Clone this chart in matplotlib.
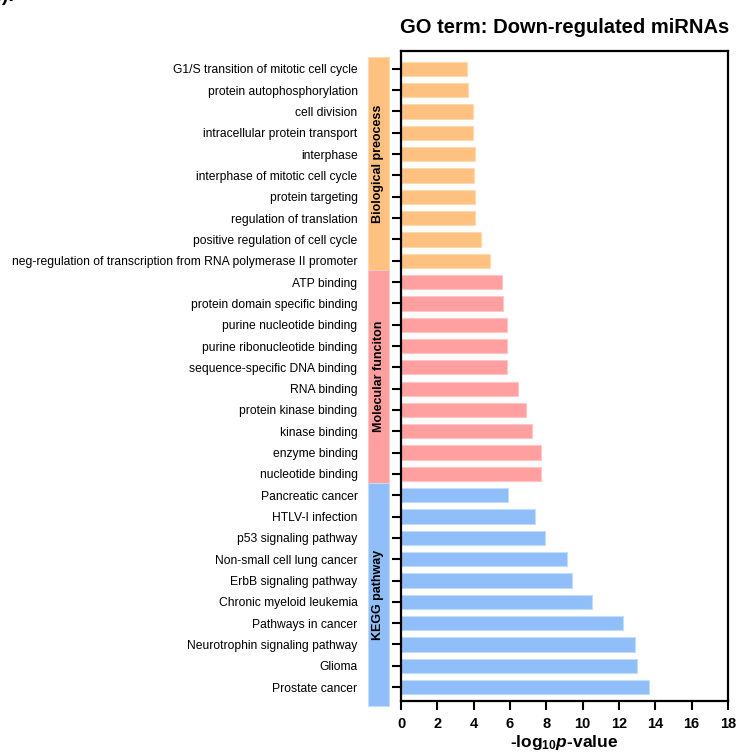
import matplotlib
matplotlib.use("Agg")
import matplotlib.pyplot as plt
import matplotlib.transforms as mtransforms
from matplotlib.patches import Rectangle

plt.rcParams['font.family'] = ['Liberation Sans', 'DejaVu Sans']
plt.rcParams['mathtext.fontset'] = 'custom'
plt.rcParams['mathtext.rm'] = 'Liberation Sans:bold'
plt.rcParams['mathtext.it'] = 'Liberation Sans:bold:italic'
plt.rcParams['mathtext.bf'] = 'Liberation Sans:bold'

bp_terms = ["G1/S transition of mitotic cell cycle", "protein autophosphorylation",
            "cell division", "intracellular protein transport", "interphase",
            "interphase of mitotic cell cycle", "protein targeting",
            "regulation of translation", "positive regulation of cell cycle",
            "neg-regulation of transcription from RNA polymerase II promoter"]
bp_values = [3.65, 3.69, 3.94, 3.94, 4.07, 4.0, 4.07, 4.07, 4.38, 4.88]

mf_terms = ["ATP binding", "protein domain specific binding", "purine nucleotide binding",
            "purine ribonucleotide binding", "sequence-specific DNA binding", "RNA binding",
            "protein kinase binding", "kinase binding", "enzyme binding", "nucleotide binding"]
mf_values = [5.58, 5.64, 5.82, 5.83, 5.83, 6.42, 6.9, 7.19, 7.69, 7.69]

kegg_terms = ["Pancreatic cancer", "HTLV-I infection", "p53 signaling pathway",
              "Non-small cell lung cancer", "ErbB signaling pathway",
              "Chronic myeloid leukemia", "Pathways in cancer",
              "Neurotrophin signaling pathway", "Glioma", "Prostate cancer"]
kegg_values = [5.91, 7.36, 7.92, 9.14, 9.41, 10.5, 12.23, 12.86, 12.99, 13.65]

groups = ["Biological preocess", "Molecular funciton", "KEGG pathway"]
group_colors = ["#FEC17F", "#FF9F9F", "#8FBEF8"]
group_edges = ["#FFD9B0", "#FFC6C6", "#C2DCFC"]

x_ticks = list(range(0, 19, 2))

W, H = 738, 756
fig = plt.figure(figsize=(W / 100, H / 100), dpi=100)
ax = fig.add_axes([401 / W, 1 - 701 / H, (728 - 401) / W, (701 - 50.7) / H])

all_terms = []
all_vals = []
all_cols = []
all_edges = []
spans = []
start = 0
for terms, vals, c, e in zip([bp_terms, mf_terms, kegg_terms],
                             [bp_values, mf_values, kegg_values],
                             group_colors, group_edges):
    all_terms += terms
    all_vals += vals
    all_cols += [c] * len(terms)
    all_edges += [e] * len(terms)
    spans.append((start, start + len(terms)))
    start += len(terms)

ypos = list(range(len(all_terms)))
ax.barh(ypos, all_vals, height=0.67, color=all_cols, edgecolor=all_edges, linewidth=0.8)

ax.set_ylim(len(all_terms) - 1 + 0.65, -0.85)
ax.set_xlim(0, 18)
ax.set_xticks(x_ticks)
ax.set_xticklabels([str(t) for t in x_ticks], fontweight='bold', fontsize=10.5)
ax.set_yticks(ypos)
ax.set_yticklabels(all_terms, fontsize=8.75)
ax.tick_params(axis='y', direction='out', length=6.3, width=1.5, pad=25)
ax.tick_params(axis='x', direction='out', length=6.3, width=1.5, pad=5)
for s in ax.spines.values():
    s.set_linewidth(1.6)

# group strips
trans = mtransforms.blended_transform_factory(ax.transAxes, ax.transData)
x0 = (368.3 - 401) / 327
wstrip = (388.7 - 368.3) / 327
for gi, ((a, b), name, c, e) in enumerate(zip(spans, groups, group_colors, group_edges)):
    top = a - 0.56
    bot = b - 0.56 if gi < len(spans) - 1 else b - 0.1
    rect = Rectangle((x0, top), wstrip, bot - top, transform=trans,
                     facecolor=c, edgecolor=e, linewidth=0.8, clip_on=False)
    ax.add_patch(rect)
    ax.text(x0 + wstrip / 2, (top + bot) / 2, name, transform=trans, rotation=90,
            ha='center', va='center', fontsize=9, fontweight='bold')

ax.set_title("GO term: Down-regulated miRNAs", fontsize=14.5, fontweight='bold', pad=13)
ax.set_xlabel(r"-log$_{10}$$\it{p}$-value", fontsize=12.5, fontweight='bold', labelpad=2)

fig.text(-0.013, 1 - 5 / H, "b).", fontsize=14, fontweight='bold', va='bottom', ha='left')

fig.savefig("out.png", dpi=100)
